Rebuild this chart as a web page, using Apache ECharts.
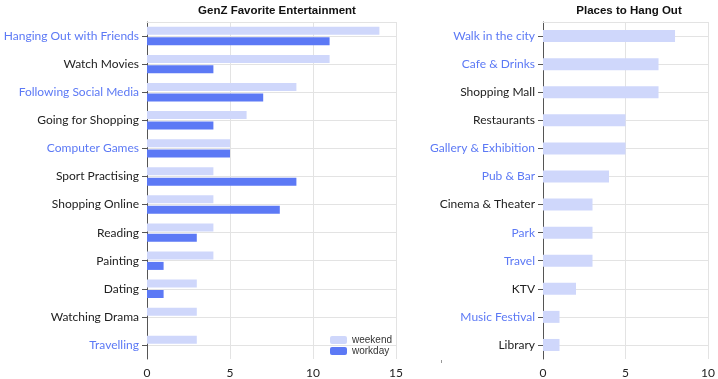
<!DOCTYPE html>
<html><head><meta charset="utf-8">
<script src="https://cdn.jsdelivr.net/npm/echarts@6/dist/echarts.min.js"></script>
<style>html,body{margin:0;padding:0;background:#fff}#c{width:718px;height:379px}</style>
</head><body><div id="c"></div>
<script>
const activities = ['Hanging Out with Friends','Watch Movies','Following Social Media','Going for Shopping','Computer Games','Sport Practising','Shopping Online','Reading','Painting','Dating','Watching Drama','Travelling'];
const weekend = [14,11,9,6,5,4,4,4,4,3,3,3];
const workday = [11,4,7,4,5,9,8,3,1,1,0,0];
const places = ['Walk in the city','Cafe & Drinks','Shopping Mall','Restaurants','Gallery & Exhibition','Pub & Bar','Cinema & Theater','Park','Travel','KTV','Music Festival','Library'];
const placeCounts = [8,7,7,5,5,4,3,3,3,2,1,1];
const highlightActivities = ['Hanging Out with Friends','Following Social Media','Computer Games','Travelling'];
const highlightPlaces = ['Walk in the city','Cafe & Drinks','Gallery & Exhibition','Pub & Bar','Park','Travel','Music Festival'];
const leftTicks = [0,5,10,15];
const rightTicks = [0,5,10];

const BLUE = '#5c79f5', LIGHT = '#cfd7fb', GRID = '#e3e3e3', AX = '#555';
const FONT = 'Lato';
function catAxis(gi, data, hl){
  return {type:'category', gridIndex:gi, data:data, inverse:true,
    axisLine:{show:true, lineStyle:{color:AX}},
    axisTick:{show:true, alignWithLabel:true, length:5, lineStyle:{color:AX}},
    splitLine:{show:true, alignWithLabel:true, lineStyle:{color:GRID}},
    axisLabel:{margin:8, fontFamily:FONT, fontSize:12,
      formatter:function(v){return hl.indexOf(v)>=0?'{b|'+v+'}':'{k|'+v+'}';},
      rich:{b:{color:BLUE,fontFamily:FONT,fontSize:12},k:{color:'#222',fontFamily:FONT,fontSize:12}}}};
}
function valAxis(gi, ticks){
  return {type:'value', gridIndex:gi, min:ticks[0], max:ticks[ticks.length-1], interval:ticks[1]-ticks[0],
    axisLine:{show:false}, axisTick:{show:false},
    splitLine:{show:true, lineStyle:{color:GRID}},
    axisLabel:{color:'#222', fontFamily:FONT, fontSize:12, margin:8}};
}
function topAxis(gi, ticks){
  return {type:'value', gridIndex:gi, position:'top', min:ticks[0], max:ticks[ticks.length-1], interval:ticks[1]-ticks[0],
    axisLine:{show:true, lineStyle:{color:GRID}}, axisTick:{show:false},
    axisLabel:{show:false}, splitLine:{show:false}};
}
const chart = echarts.init(document.getElementById('c'), null, {renderer:'canvas'});
chart.setOption({
  animation:false,
  title:[
    {text:'GenZ Favorite Entertainment', left:272, top:0, textAlign:'center', textStyle:{fontFamily:'Liberation Sans', fontWeight:'bold', fontSize:11.5, color:'#111'}},
    {text:'Places to Hang Out', left:624, top:0, textAlign:'center', textStyle:{fontFamily:'Liberation Sans', fontWeight:'bold', fontSize:11.5, color:'#111'}}
  ],
  legend:{orient:'vertical', left:325, top:330, itemWidth:17, itemHeight:8, itemGap:1,
    textStyle:{fontFamily:'Liberation Sans', fontSize:10, color:'#333'},
    data:['weekend','workday']},
  grid:[
    {left:147, right:322, top:22, bottom:17},
    {left:543, right:9, top:22, bottom:17}
  ],
  graphic:[{type:'line', shape:{x1:441.5, y1:360, x2:441.5, y2:363}, style:{stroke:'#999', lineWidth:1}}],
  xAxis:[valAxis(0,leftTicks), valAxis(1,rightTicks), topAxis(0,leftTicks), topAxis(1,rightTicks)],
  yAxis:[catAxis(0,activities,highlightActivities), catAxis(1,places,highlightPlaces)],
  series:[
    {name:'weekend', type:'bar', xAxisIndex:0, yAxisIndex:0, data:weekend, barWidth:8, barGap:'30%', itemStyle:{color:LIGHT}},
    {name:'workday', type:'bar', xAxisIndex:0, yAxisIndex:0, data:workday, barWidth:8, barGap:'30%', itemStyle:{color:BLUE}},
    {name:'places', type:'bar', xAxisIndex:1, yAxisIndex:1, data:placeCounts, barWidth:12, itemStyle:{color:LIGHT}}
  ]
});
</script></body></html>
